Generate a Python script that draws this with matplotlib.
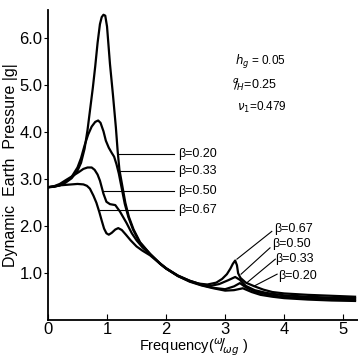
import matplotlib
matplotlib.use('Agg')
import matplotlib.pyplot as plt

plt.rcParams['font.family'] = ['Liberation Sans', 'DejaVu Sans']
plt.rcParams['mathtext.fontset'] = 'dejavusans'

# curves, one per beta
b20_x = [0, 0.1, 0.2, 0.3, 0.4, 0.5, 0.56, 0.62, 0.67, 0.71, 0.76, 0.8, 0.84, 0.88, 0.91, 0.94,
         0.97, 1.0, 1.05, 1.1, 1.15, 1.18, 1.21, 1.26, 1.31, 1.37, 1.45, 1.56, 1.73, 1.9, 2.0,
         2.2, 2.4, 2.6, 2.8, 3.0, 3.15, 3.3, 3.45, 3.6, 3.8, 4.0, 4.4, 4.8, 5.2]
b20_y = [2.83, 2.84, 2.87, 2.93, 3.02, 3.18, 3.35, 3.65, 4.05, 4.45, 4.95, 5.4, 5.9, 6.3, 6.45, 6.5,
         6.48, 6.25, 5.45, 4.8, 4.1, 3.6, 3.2, 2.85, 2.5, 2.2, 1.93, 1.66, 1.41, 1.2, 1.1,
         0.94, 0.82, 0.74, 0.68, 0.63, 0.64, 0.68, 0.6, 0.54, 0.5, 0.47, 0.44, 0.42, 0.41]

b33_x = [0, 0.1, 0.2, 0.3, 0.4, 0.5, 0.56, 0.62, 0.68, 0.74, 0.8, 0.85, 0.89, 0.94, 0.98, 1.03,
         1.08, 1.12, 1.16, 1.2, 1.25, 1.3, 1.36, 1.44, 1.55, 1.73, 1.9, 2.0, 2.2, 2.4, 2.6,
         2.8, 3.0, 3.15, 3.25, 3.35, 3.5, 3.7, 3.9, 4.2, 4.6, 5.2]
b33_y = [2.83, 2.84, 2.87, 2.94, 3.05, 3.25, 3.45, 3.72, 3.95, 4.12, 4.22, 4.25, 4.2, 4.02, 3.82, 3.67,
         3.56, 3.48, 3.32, 3.12, 2.8, 2.48, 2.2, 1.93, 1.66, 1.41, 1.2, 1.1, 0.94, 0.83, 0.75,
         0.69, 0.66, 0.72, 0.79, 0.7, 0.61, 0.55, 0.51, 0.48, 0.46, 0.44]

b50_x = [0, 0.1, 0.2, 0.3, 0.43, 0.52, 0.6, 0.67, 0.74, 0.79, 0.84, 0.88, 0.94, 0.99, 1.05, 1.14,
         1.22, 1.33, 1.42, 1.5, 1.6, 1.73, 1.9, 2.0, 2.2, 2.4, 2.6, 2.75, 2.9, 3.05, 3.17,
         3.25, 3.35, 3.5, 3.7, 4.0, 4.4, 4.8, 5.2]
b50_y = [2.83, 2.85, 2.9, 2.98, 3.08, 3.15, 3.22, 3.25, 3.25, 3.2, 3.1, 2.97, 2.69, 2.52, 2.47, 2.45,
         2.31, 2.07, 1.85, 1.7, 1.55, 1.4, 1.21, 1.11, 0.95, 0.84, 0.76, 0.73, 0.77, 0.85, 0.92,
         0.86, 0.73, 0.64, 0.58, 0.53, 0.5, 0.48, 0.47]

b67_x = [0, 0.1, 0.2, 0.3, 0.4, 0.5, 0.6, 0.66, 0.71, 0.77, 0.82, 0.87, 0.91, 0.95, 0.99, 1.03,
         1.08, 1.14, 1.19, 1.25, 1.32, 1.4, 1.5, 1.6, 1.73, 1.9, 2.0, 2.2, 2.4, 2.55, 2.7,
         2.85, 2.95, 3.03, 3.09, 3.13, 3.17, 3.2, 3.22, 3.26, 3.35, 3.5, 3.65, 3.8, 4.0, 4.4,
         4.8, 5.2]
b67_y = [2.83, 2.85, 2.87, 2.88, 2.89, 2.9, 2.89, 2.86, 2.8, 2.65, 2.5, 2.3, 2.12, 1.95, 1.85, 1.82,
         1.86, 1.93, 1.96, 1.92, 1.82, 1.7, 1.57, 1.48, 1.38, 1.2, 1.1, 0.95, 0.84, 0.78, 0.76,
         0.8, 0.88, 0.98, 1.1, 1.2, 1.27, 1.17, 1.0, 0.9, 0.8, 0.72, 0.65, 0.6, 0.57, 0.54,
         0.52, 0.5]

# labels: text, leader start, leader end, text position
left_labels = ['β=0.20', 'β=0.33', 'β=0.50', 'β=0.67']
left_y = [3.53, 3.17, 2.76, 2.35]
left_x0 = [1.19, 1.21, 0.94, 0.88]
right_labels = ['β=0.67', 'β=0.50', 'β=0.33', 'β=0.20']
right_start = [(3.2, 1.3), (3.27, 0.98), (3.37, 0.8), (3.48, 0.72)]
right_end = [(3.79, 1.89), (3.76, 1.54), (3.85, 1.3), (3.88, 0.98)]
right_text = [(3.83, 1.95), (3.79, 1.62), (3.85, 1.31), (3.89, 0.95)]

fig = plt.figure(figsize=(3.58, 3.59), dpi=100)
ax = fig.add_axes([0.134, 0.108, 0.866, 0.864])

for xs, ys in [(b20_x, b20_y), (b33_x, b33_y), (b50_x, b50_y), (b67_x, b67_y)]:
    ax.plot(xs, ys, color='black', linewidth=1.6, solid_joinstyle='round')

for lab, y, x0 in zip(left_labels, left_y, left_x0):
    ax.plot([x0, 2.13], [y, y], color='black', linewidth=0.8)
    ax.text(2.2, y, lab, fontsize=9, va='center', ha='left')

for lab, s, e, t in zip(right_labels, right_start, right_end, right_text):
    ax.plot([s[0], e[0]], [s[1], e[1]], color='black', linewidth=0.8)
    ax.text(t[0], t[1], lab, fontsize=9, va='center', ha='left')

ax.text(3.17, 5.5, r'$h_g$ = 0.05', fontsize=8.5, va='center')
ax.text(3.12, 4.98, r'$^{q}\!\!/_{\!H}$=0.25', fontsize=9, va='center')
ax.text(3.2, 4.52, r'$\nu_1$=0.479', fontsize=8.5, va='center')

ax.set_xlim(0, 5.25)
ax.set_ylim(0, 6.6)
ax.set_xticks([0, 1, 2, 3, 4, 5])
ax.set_yticks([1, 2, 3, 4, 5, 6])
ax.set_yticklabels(['1.0', '2.0', '3.0', '4.0', '5.0', '6.0'])
ax.tick_params(axis='x', direction='in', length=4, labelsize=12, pad=1.5)
ax.tick_params(axis='y', direction='out', length=3, labelsize=12, pad=1)
ax.spines['top'].set_visible(False)
ax.spines['right'].set_visible(False)
ax.spines['left'].set_linewidth(1.3)
ax.spines['bottom'].set_linewidth(1.3)
ax.set_ylabel('Dynamic  Earth  Pressure |g|', fontsize=11.5, labelpad=1)
fig.text(0.54, 0.004, r'Frequency($^{\omega}\!/\!_{\omega g}$ )', fontsize=10.5,
         ha='center', va='bottom')

plt.savefig('out.png', dpi=100)
